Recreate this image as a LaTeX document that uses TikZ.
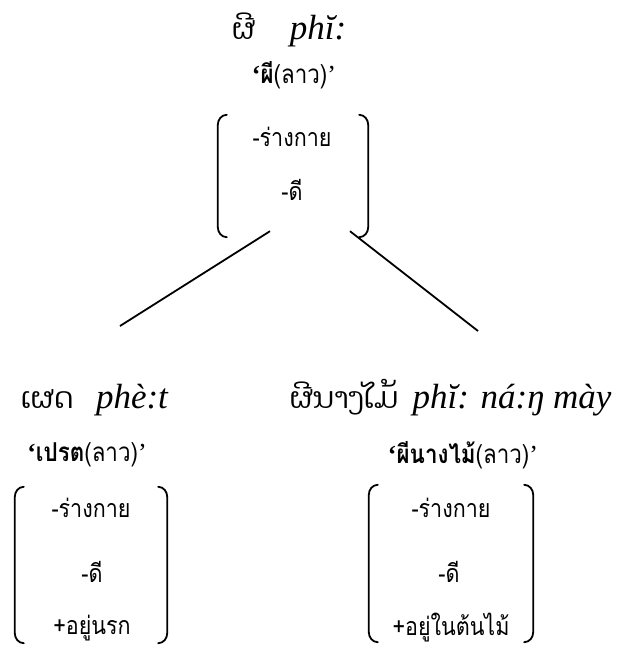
\documentclass[tikz,border=0pt]{standalone}
\usepackage{fontspec}
\newfontfamily\thaifont[Script=Thai, FakeStretch=0.86]{Loma}
\newfontfamily\laofont[Script=Lao]{Dhyana}
\newfontfamily\romfont{Liberation Serif}
\newcommand{\openq}{{\romfont\bfseries ‘}}
\newcommand{\closeq}{{\romfont ’}}
\begin{document}
\begin{tikzpicture}[x=1pt,y=-1pt,
  lao/.style={font=\laofont\fontsize{29}{32}\selectfont, inner sep=0pt, anchor=base},
  rom/.style={font=\romfont\itshape\fontsize{35}{38}\selectfont, inner sep=0pt, anchor=base},
  gloss/.style={font=\thaifont\fontsize{26}{29}\selectfont, inner sep=0pt},
  feat/.style={font=\thaifont\fontsize{25}{28}\selectfont, inner sep=0pt},
  frame/.style={inner sep=0pt},
  brk/.style={line width=1.8pt, line cap=round},
  branch/.style={line width=1.8pt}]
\useasboundingbox (0,0) rectangle (622,648);

% rounded square brackets on both sides of a frame node
\newcommand{\fbrackets}[1]{%
  \draw[brk] ([xshift=9pt]#1.north west) to[out=180,in=90] ([yshift=-10pt]#1.north west)
    -- ([yshift=10pt]#1.south west) to[out=-90,in=180] ([xshift=9pt]#1.south west);
  \draw[brk] ([xshift=-9pt]#1.north east) to[out=0,in=90] ([yshift=-10pt]#1.north east)
    -- ([yshift=10pt]#1.south east) to[out=-90,in=0] ([xshift=-9pt]#1.south east);}

% ---- top entry
\node[lao] (tLao) at (244,39) {ຜີ};
\node[rom] (tRom) at (318,39) {phĭ:};
\node[gloss] (tGl) at (294,75) {\openq\textbf{ผี}(ลาว)\closeq};
\node[frame, minimum width=150pt, minimum height=122pt] (tB) at (293,176) {};
\fbrackets{tB}
\node[feat] (t1) at (292,137) {-ร่างกาย};
\node[feat] (t2) at (292,190) {-ดี};

% ---- bottom left entry
\node[lao] (lLao) at (47,408) {ເຜດ};
\node[rom] (lRom) at (132,408) {phè:t};
\node[gloss] (lGl) at (87,455) {\openq\textbf{เปรต}(ลาว)\closeq};
\node[frame, minimum width=152pt, minimum height=156pt] (lB) at (91,565) {};
\fbrackets{lB}
\node[feat] (l1) at (91,508) {-ร่างกาย};
\node[feat] (l2) at (92,572) {-ดี};
\node[feat] (l3) at (92,628) {+อยู่นรก};

% ---- bottom right entry
\node[lao] (rLao) at (344,408) {ຜີນາງໄມ້};
\node[rom] (rRom) at (512,408) {phĭ: ná:ŋ mày};
\node[gloss] (rGl) at (463,455) {\openq\textbf{ผีนางไม้}(ลาว)\closeq};
\node[frame, minimum width=164pt, minimum height=157pt] (rB) at (451,563.5) {};
\fbrackets{rB}
\node[feat] (r1) at (451,508) {-ร่างกาย};
\node[feat] (r2) at (449,572) {-ดี};
\node[feat] (r3) at (451,628) {+อยู่ในต้นไม้};

% ---- branches
\coordinate (bl) at (120,326);
\coordinate (br) at (478,331);
\draw[branch] ([xshift=-23pt,yshift=6pt]tB.south) -- (bl);
\draw[branch] ([xshift=57pt,yshift=6pt]tB.south) -- (br);
\end{tikzpicture}
\end{document}
